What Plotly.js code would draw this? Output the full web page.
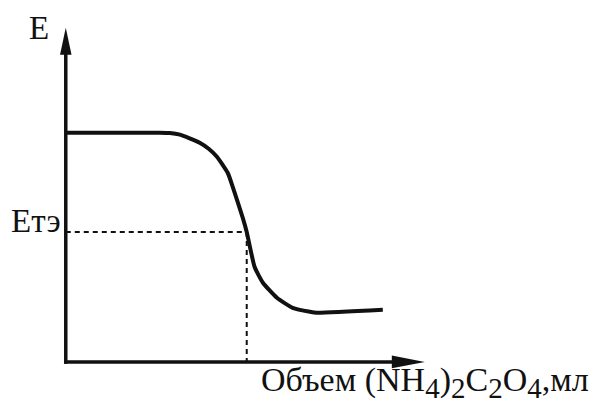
<!DOCTYPE html>
<html>
<head>
<meta charset="utf-8">
<script src="https://cdn.plot.ly/plotly-3.0.1.min.js"></script>
<style>html,body{margin:0;padding:0;background:#fff;}#chart{width:595px;height:410px;}</style>
</head>
<body>
<div id="chart"></div>
<script>
// Titration curve (arbitrary units): volume of (NH4)2C2O4 vs potential E
const volume = [0, 2.62, 2.90, 3.18, 3.45, 3.73, 3.98, 4.21, 4.51, 4.65, 4.93, 5.04, 5.26, 5.49, 5.88, 6.32, 6.80, 6.99, 8.83];
const potential = [6.86, 6.86, 6.85, 6.80, 6.69, 6.56, 6.38, 6.14, 5.66, 5.24, 4.31, 3.89, 2.84, 2.37, 1.92, 1.62, 1.50, 1.47, 1.56];
// Equivalence point
const eqVolume = 5.04;
const eqPotential = 3.89;
// Axis extents
const xMax = 10;
const yMax = 10;
const sub = s => `<sub><span style="font-size:29px">${s}</span></sub>`;
const labels = {
  y: "E",
  eq: "Eтэ",
  x: `Объем (NH${sub(4)})${sub(2)}C${sub(2)}O${sub(4)},мл`
};

const FONT = "Liberation Serif, Times New Roman, serif";
const ink = "#111111";

const traces = [
  {
    x: [0, eqVolume], y: [eqPotential, eqPotential], mode: "lines",
    line: {color: ink, width: 2, dash: "5px,4px"}, hoverinfo: "skip"
  },
  {
    x: [eqVolume, eqVolume], y: [eqPotential, 0], mode: "lines",
    line: {color: ink, width: 2, dash: "5px,4px"}, hoverinfo: "skip"
  },
  {
    x: volume, y: potential, mode: "lines",
    line: {color: ink, width: 4, shape: "spline", smoothing: 0.5}, hoverinfo: "skip"
  }
];

const xHead = 0.92, yHead = 0.81;
const shapes = [
  {type: "line", xref: "x", yref: "y", x0: -0.05, y0: 0, x1: xMax - xHead + 0.05, y1: 0, line: {color: ink, width: 3.5}},
  {type: "line", xref: "x", yref: "y", x0: 0, y0: -0.05, x1: 0, y1: yMax - yHead + 0.05, line: {color: ink, width: 3.5}},
  {type: "path", xref: "x", yref: "y",
   path: `M ${xMax - xHead} ${-0.19} L ${xMax} 0 L ${xMax - xHead} ${0.19} Z`,
   fillcolor: ink, line: {width: 0}},
  {type: "path", xref: "x", yref: "y",
   path: `M ${-0.16} ${yMax - yHead} L 0 ${yMax} L ${0.16} ${yMax - yHead} Z`,
   fillcolor: ink, line: {width: 0}}
];

const annotations = [
  {x: 0, y: yMax, xref: "x", yref: "y", text: labels.y, showarrow: false,
   font: {family: FONT, size: 33, color: ink}, xanchor: "center", yanchor: "middle", xshift: -27, yshift: 0},
  {x: 0, y: eqPotential, xref: "x", yref: "y", text: labels.eq, showarrow: false,
   font: {family: FONT, size: 33, color: ink}, xanchor: "right", yanchor: "middle", xshift: -3, yshift: 11},
  {x: 5.47, y: 0, xref: "x", yref: "y", text: labels.x, showarrow: false,
   font: {family: FONT, size: 34, color: ink}, xanchor: "left", yanchor: "top", yshift: 3, xshift: -3}
];

const layout = {
  width: 595, height: 410,
  margin: {l: 55.2, r: 162.8, t: 21.3, b: 38, pad: 0},
  paper_bgcolor: "#ffffff", plot_bgcolor: "#ffffff",
  showlegend: false,
  xaxis: {range: [-0.3, xMax + 0.2], visible: false, fixedrange: true},
  yaxis: {range: [-0.3, yMax + 0.2], visible: false, fixedrange: true},
  shapes: shapes,
  annotations: annotations
};

Plotly.newPlot("chart", traces, layout, {staticPlot: true, displayModeBar: false});
</script>
</body>
</html>
